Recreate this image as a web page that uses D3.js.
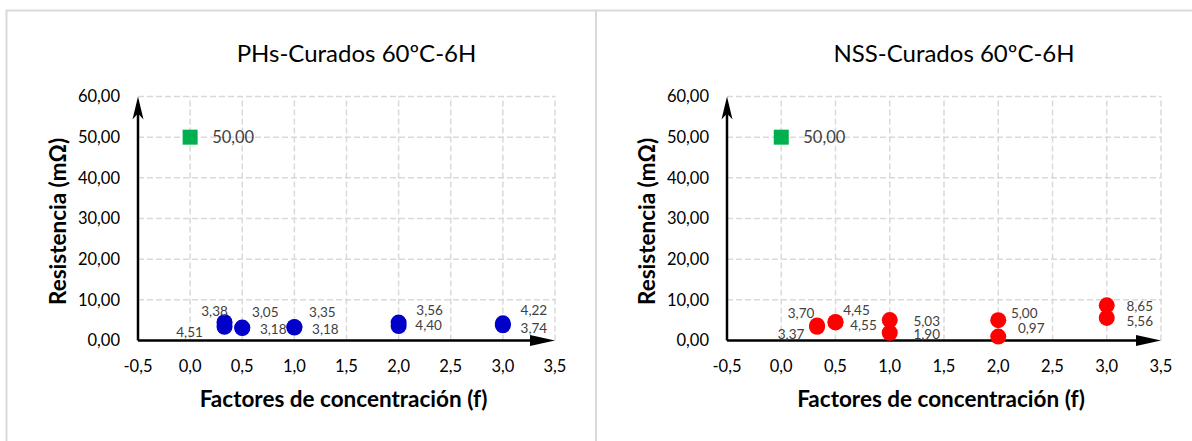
<!DOCTYPE html>
<html>
<head>
<meta charset="utf-8">
<script src="https://cdn.jsdelivr.net/npm/d3@7"></script>
<style>
  html, body { margin: 0; padding: 0; background: #ffffff; }
  svg { display: block; font-family: Lato, "Open Sans", sans-serif; }
</style>
</head>
<body>
<svg id="chart" width="1192" height="441"></svg>
<script>
// ---------- data ----------
const xTicks = [-0.5, 0, 0.5, 1, 1.5, 2, 2.5, 3, 3.5];
const yTicks = [0, 10, 20, 30, 40, 50, 60];

const refX = [0];
const refY = [50.00];

const phsTitle = "PHs-Curados 60ºC-6H";
const phsX = [0.33, 0.33, 0.5, 0.5, 1, 1, 2, 2, 3, 3];
const phsY = [3.38, 4.51, 3.05, 3.18, 3.35, 3.18, 3.56, 4.40, 4.22, 3.74];

const nssTitle = "NSS-Curados 60ºC-6H";
const nssX = [0.33, 0.33, 0.5, 0.5, 1, 1, 2, 2, 3, 3];
const nssY = [3.70, 3.37, 4.45, 4.55, 5.03, 1.90, 5.00, 0.97, 8.65, 5.56];

const xTitle = "Factores de concentración (f)";
const yTitle = "Resistencia (mΩ)";

// label placement (style only): offset of label centre from its marker, in px
const phsLabelOffsets = [[-10,-15],[-35,10],[23,-16],[31,2],[28,-15],[31,2],[31,-16],[30,3],[31,-13],[31,3]];
const nssLabelOffsets = [[-16,-12],[-26,7],[21,-12],[28,3],[37,1],[37,2],[26,-7],[33,-8],[33,1],[33,3]];

// ---------- drawing ----------
const svg = d3.select("#chart");
const fmt2 = v => d3.format(".2f")(v).replace("−", "-").replace(".", ",");
const fmt1 = v => d3.format(".1f")(v).replace("−", "-").replace(".", ",");

// panel frames
const frame = svg.append("g").attr("stroke", "#d9d9d9").attr("stroke-width", 2).attr("fill", "none");
frame.append("line").attr("x1", 6).attr("x2", 1192).attr("y1", 10.5).attr("y2", 10.5);
frame.append("line").attr("x1", 6.5).attr("x2", 6.5).attr("y1", 10).attr("y2", 441);
frame.append("line").attr("x1", 596).attr("x2", 596).attr("y1", 10).attr("y2", 441);

function drawPanel(cfg) {
  const g = svg.append("g");
  const xs = d3.scaleLinear().domain([-0.5, 3.5]).range([cfg.left, cfg.right]);
  const ys = d3.scaleLinear().domain([0, 60]).range([340.5, 96.5]);

  // grid
  const grid = g.append("g").attr("stroke", "#d9d9d9").attr("stroke-width", 1.5)
    .attr("stroke-dasharray", "6,3").attr("fill", "none");
  grid.selectAll("line.v").data(xTicks.filter(d => d > -0.5)).join("line")
    .attr("x1", d => xs(d)).attr("x2", d => xs(d)).attr("y1", ys(0)).attr("y2", ys(60));
  grid.selectAll("line.h").data(yTicks.filter(d => d > 0)).join("line")
    .attr("x1", xs(-0.5)).attr("x2", xs(3.5)).attr("y1", d => ys(d)).attr("y2", d => ys(d));

  // tick labels
  g.append("g").selectAll("text").data(yTicks).join("text")
    .attr("x", xs(-0.5) - 18).attr("y", d => ys(d)).attr("dy", "0.35em")
    .attr("text-anchor", "end").attr("font-size", 16.5).attr("fill", "#000")
    .text(fmt2);
  g.append("g").selectAll("text").data(xTicks).join("text")
    .attr("x", d => xs(d)).attr("y", 372)
    .attr("text-anchor", "middle").attr("font-size", 16.5).attr("fill", "#000")
    .text(fmt1);

  // axes with arrows
  const ax = g.append("g");
  ax.append("line").attr("x1", xs(-0.5)).attr("x2", xs(3.5) - 20)
    .attr("y1", ys(0)).attr("y2", ys(0)).attr("stroke", "#000").attr("stroke-width", 2.5);
  ax.append("path").attr("fill", "#000")
    .attr("d", `M${xs(3.5)},${ys(0)} L${xs(3.5) - 25},${ys(0) - 5.5} L${xs(3.5) - 25},${ys(0) + 5.5} Z`);
  ax.append("line").attr("x1", xs(-0.5)).attr("x2", xs(-0.5))
    .attr("y1", ys(0)).attr("y2", ys(60) + 15).attr("stroke", "#000").attr("stroke-width", 2.5);
  ax.append("path").attr("fill", "#000")
    .attr("d", `M${xs(-0.5)},${ys(60)} L${xs(-0.5) + 5.5},${ys(60) + 23} L${xs(-0.5)},${ys(60) + 17} L${xs(-0.5) - 5.5},${ys(60) + 23} Z`);

  // titles
  g.append("text").attr("x", (cfg.left + cfg.right) / 2 + 10).attr("y", 62)
    .attr("text-anchor", "middle").attr("font-size", 24).attr("fill", "#000").text(cfg.title);
  g.append("text").attr("x", (cfg.left + cfg.right) / 2 - 3).attr("y", 407)
    .attr("text-anchor", "middle").attr("font-size", 22.5).attr("font-weight", "bold").attr("fill", "#000").text(xTitle);
  g.append("text").attr("transform", `translate(${xs(-0.5) - 72},${(ys(0) + ys(60)) / 2 + 3}) rotate(-90)`)
    .attr("text-anchor", "middle").attr("font-size", 22.5).attr("font-weight", "bold").attr("fill", "#000").text(yTitle);

  // reference point
  const ref = refX.map((x, i) => ({ x, y: refY[i] }));
  g.append("g").selectAll("rect").data(ref).join("rect")
    .attr("x", d => xs(d.x) - 7.5).attr("y", d => ys(d.y) - 7.5).attr("width", 15).attr("height", 15)
    .attr("fill", "#00b050");
  g.append("g").selectAll("text").data(ref).join("text")
    .attr("x", d => xs(d.x) + 22).attr("y", d => ys(d.y)).attr("dy", "0.35em")
    .attr("font-size", 16.5).attr("fill", "#404040").text(d => fmt2(d.y));

  // series
  const pts = cfg.xs.map((x, i) => ({ x, y: cfg.ys[i], off: cfg.offsets[i] }));
  g.append("g").selectAll("circle").data(pts).join("circle")
    .attr("cx", d => xs(d.x)).attr("cy", d => ys(d.y)).attr("r", 8).attr("fill", cfg.color);
  g.append("g").selectAll("text").data(pts).join("text")
    .attr("x", d => xs(d.x) + d.off[0]).attr("y", d => ys(d.y) + d.off[1]).attr("dy", "0.35em")
    .attr("text-anchor", "middle").attr("font-size", 13.5).attr("fill", "#404040")
    .text(d => fmt2(d.y));
}

drawPanel({ left: 138, right: 555, title: phsTitle, xs: phsX, ys: phsY, offsets: phsLabelOffsets, color: "#0000c8" });
drawPanel({ left: 727, right: 1161, title: nssTitle, xs: nssX, ys: nssY, offsets: nssLabelOffsets, color: "#ff0000" });
</script>
</body>
</html>
